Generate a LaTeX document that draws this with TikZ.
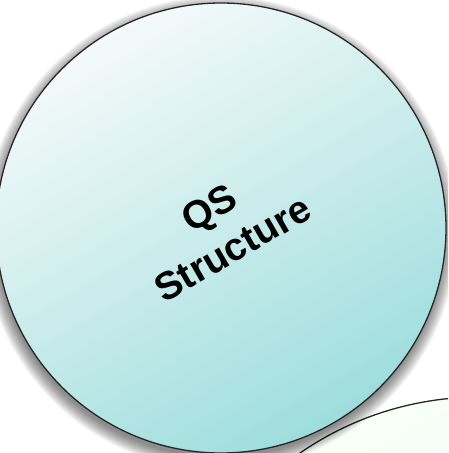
\documentclass[tikz,border=0pt]{standalone}
\usepackage{fontspec}
\setmainfont{Liberation Sans}
\begin{document}
\begin{tikzpicture}[x=1pt,y=-1pt,
  bubbleline/.style={draw=black!85,line width=1.3pt},
  bigbubble/.style={bubbleline,top color=white!93!teal!60,bottom color=cyan!30!teal!38!white,shading angle=30},
  smallbubble/.style={bubbleline,top color=white!97!green,bottom color=green!8!teal!8!white,shading angle=30},
  label/.style={font=\fontsize{39}{47}\selectfont\bfseries,align=center,rotate=30,inner sep=0pt}]
\useasboundingbox (0,0) rectangle (448,453);
\fill[white] (0,0) rectangle (448,453);
\begin{scope}
\clip (0,0) rectangle (448,453);
% second bubble
\path[smallbubble] (480,714) circle[radius=317];
% shadow of big bubble
\foreach \k in {1,...,14}{
  \fill[black,opacity=0.04] (220,233) circle[radius=223+\k];
}
% big bubble
\path[bigbubble] (221,228) coordinate (c) circle[radius=225];
\node[label] (qs) at (221,228) {QS\\Structure};
\end{scope}
\end{tikzpicture}
\end{document}
